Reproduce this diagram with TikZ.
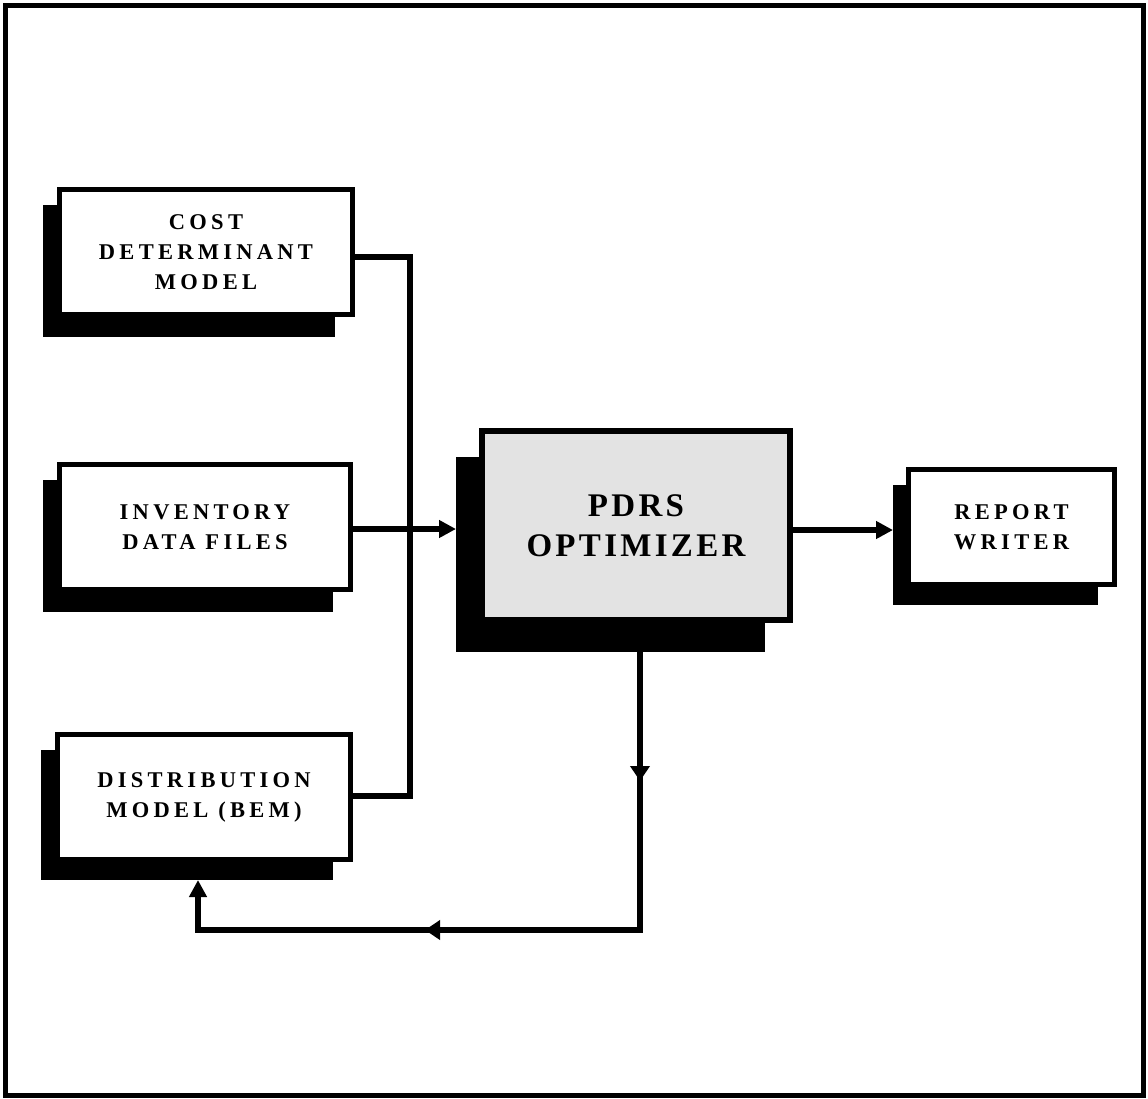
\documentclass[tikz,border=0pt]{standalone}
\usepackage{fontspec}
\setmainfont{Liberation Serif}
\newfontfamily\lblfont[LetterSpace=19]{Liberation Serif}
\newfontfamily\bigfont[LetterSpace=10]{Liberation Serif}
\usetikzlibrary{arrows.meta,backgrounds,decorations.markings,calc}
\begin{document}
\begin{tikzpicture}[x=1pt,y=-1pt,
  box/.style={draw=black,line width=5pt,fill=white,align=center,inner sep=0pt,
    font=\lblfont\bfseries\fontsize{22.5}{30}\selectfont},
  bigbox/.style={draw=black,line width=6pt,fill=black!11,align=center,inner sep=0pt,
    font=\bigfont\bfseries\fontsize{33}{40}\selectfont},
  conn/.style={line width=5.5pt},
  tip/.style={-{Triangle[length=17pt,width=17pt]}},
  midmarks/.style={postaction={decorate},decoration={markings,
    mark=at position 158pt with {\arrow{Triangle[length=15pt,width=19pt]}},
    mark=at position 522pt with {\arrow{Triangle[length=15pt,width=19pt]}}}}
]
\useasboundingbox (0,0) rectangle (1148,1098);
\draw[line width=5pt] (5.5,5.5) rectangle (1143.5,1095.5);

\node[box,minimum width=293pt,minimum height=125pt] (cost) at (206,252) {COST\\DETERMINANT\\MODEL};
\node[box,minimum width=291pt,minimum height=125pt] (inv) at (205,527) {INVENTORY\\DATA FILES};
\node[box,minimum width=293pt,minimum height=125pt] (dist) at (204,797) {DISTRIBUTION\\MODEL (BEM)};
\node[bigbox,minimum width=308pt,minimum height=189pt] (pdrs) at (636,525.5) {PDRS\\OPTIMIZER};
\node[box,minimum width=206pt,minimum height=115pt] (rep) at (1011.5,527) {REPORT\\WRITER};

\begin{scope}[on background layer]
  \fill ($(cost.south west)+(-14,20)$) rectangle ($(cost.north east)+(-20,18)$);
  \fill ($(inv.south west)+(-14,20)$) rectangle ($(inv.north east)+(-20,18)$);
  \fill ($(dist.south west)+(-14,18)$) rectangle ($(dist.north east)+(-20,18)$);
  \fill ($(pdrs.south west)+(-23,29)$) rectangle ($(pdrs.north east)+(-28,29)$);
  \fill ($(rep.south west)+(-13,18)$) rectangle ($(rep.north east)+(-19,18)$);
\end{scope}

\coordinate (pshW) at ($(pdrs.south west)+(-23,0)$);
\coordinate (rshW) at ($(rep.south west)+(-13,0)$);
\coordinate (busTop) at (410,257);
\coordinate (busBot) at (410,796);
\coordinate (lc1) at (640,930);
\coordinate (lc2) at (198,930);
\coordinate (dsb) at (198,880);

\draw[conn] ([yshift=-5pt]cost.east) -- (busTop) -- (busBot) -- (busBot -| dist.east);
\draw[conn,tip] ([yshift=-2pt]inv.east) -- ([yshift=-2pt]inv.east -| pshW);
\draw[conn,tip] ([yshift=-4.5pt]pdrs.east) -- ([yshift=-4.5pt]pdrs.east -| rshW);
\draw[conn,tip,midmarks] (lc1 |- pdrs.south) -- (lc1) -- (lc2) -- (dsb);
\end{tikzpicture}
\end{document}
